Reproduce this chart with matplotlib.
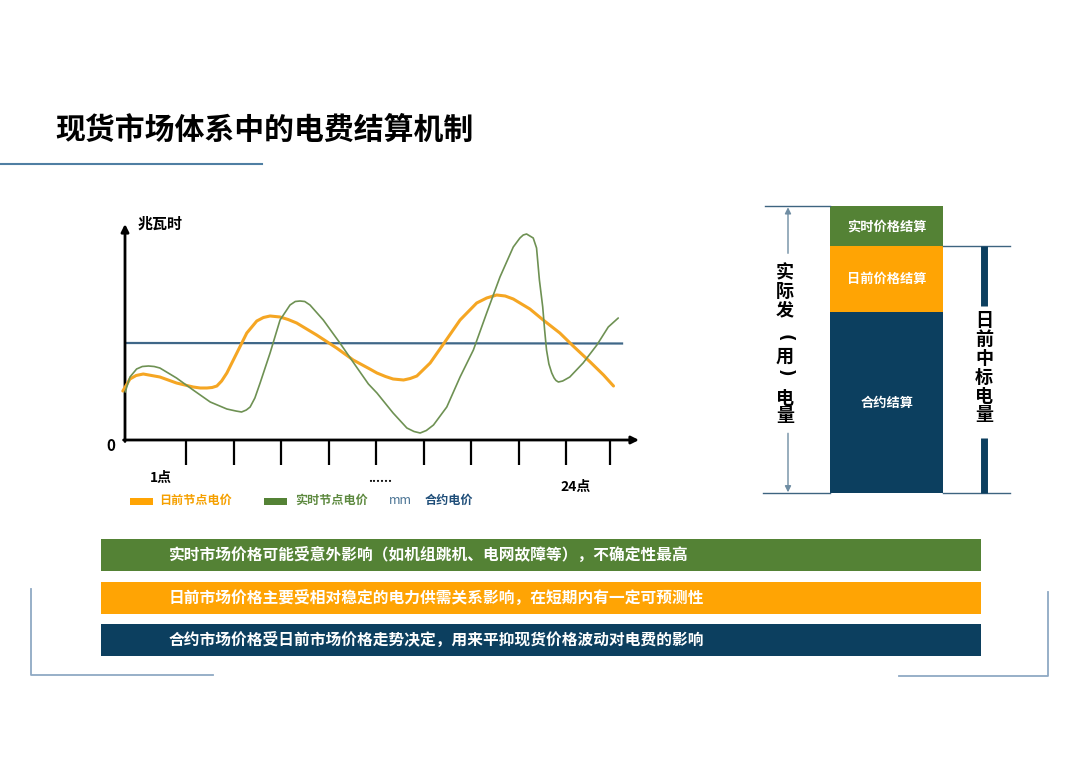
import matplotlib
matplotlib.use("Agg")
import matplotlib.pyplot as plt
import matplotlib.patches as patches

plt.rcParams['font.family'] = ['Noto Sans CJK SC', 'DejaVu Sans']

# ---- data ----
title = "现货市场体系中的电费结算机制"

# line chart: x in time-slot units (tick = 1 slot), y in MWh (schematic)
day_ahead_x = [-0.33, -0.18, -0.05, 0.10, 0.45, 0.80, 1.15, 1.30, 1.44, 1.55,
               1.65, 1.75, 1.86, 2.07, 2.28, 2.49, 2.63, 2.77, 2.98, 3.15,
               3.33, 3.75, 4.17, 4.52, 4.87, 5.02, 5.20, 5.36, 5.58, 5.72,
               5.86, 6.14, 6.42, 6.77, 7.12, 7.33, 7.54, 7.72, 7.89, 8.24,
               8.52, 8.87, 9.15, 9.51, 9.79, 10.00]
day_ahead_y = [49, 61, 64.5, 66, 63, 57, 53, 52, 52, 52.5,
               54, 59, 67, 87, 107, 119, 122.5, 124, 123, 120.5,
               117, 105, 92, 80, 71, 67, 63.5, 61, 60, 61.5,
               64, 77, 96, 120, 137, 142, 145, 144, 141, 131,
               120, 107, 94, 78, 65, 54]

real_time_x = [-0.28, -0.18, -0.04, 0.08, 0.21, 0.33, 0.45, 0.80, 1.15, 1.51,
               1.86, 2.05, 2.17, 2.27, 2.35, 2.45, 2.56, 2.77, 2.98, 3.19,
               3.30, 3.40, 3.50, 3.61, 3.89, 4.24, 4.59, 4.84, 5.02, 5.36,
               5.65, 5.80, 5.93, 6.06, 6.21, 6.49, 6.77, 7.05, 7.33, 7.61,
               7.89, 8.03, 8.10, 8.17, 8.24, 8.31, 8.38, 8.44, 8.51, 8.55,
               8.59, 8.64, 8.70, 8.75, 8.79, 8.84, 8.93, 9.08, 9.36, 9.65,
               9.89, 10.10]
real_time_y = [48, 63, 71, 73.5, 74, 73.5, 72, 62, 50, 38,
               31, 29, 28, 30, 33, 42, 57, 87, 120, 135,
               138.5, 139, 138.5, 135, 120, 97, 73, 56, 47, 27,
               12, 8.5, 7, 9.5, 15, 33, 63, 90, 127, 163,
               193, 202, 205, 206, 204, 202, 192, 160, 133, 110,
               90, 76, 67, 62, 59.5, 58, 59, 63, 77, 95,
               113, 122]

contract_x = [-0.24, 10.18]
contract_y = [97, 96.5]

x_ticks = [1, 2, 3, 4, 5, 6, 7, 8, 9, 9.93]
legend_labels = ["日前节点电价", "实时节点电价", "合约电价"]

# settlement split of the actual generated (used) energy, bottom to top
settle_labels = ["合约结算", "日前价格结算", "实时价格结算"]
settle_values = [181, 66, 40]

notes = ["实时市场价格可能受意外影响（如机组跳机、电网故障等），不确定性最高",
         "日前市场价格主要受相对稳定的电力供需关系影响，在短期内有一定可预测性",
         "合约市场价格受日前市场价格走势决定，用来平抑现货价格波动对电费的影响"]

# ---- colours ----
GREEN = "#548235"
ORANGE = "#FFA404"
NAVY = "#0C3F5F"
LINE_ORANGE = "#F5A623"
LINE_GREEN = "#6E9153"
LINE_BLUE = "#3F6788"
DECOR = "#8FA9C4"

W, H = 1080, 763
fig = plt.figure(figsize=(W / 100, H / 100), dpi=100)
fig.patch.set_facecolor("white")


def px_axes(x0, y0, x1, y1):
    """axes placed by pixel box (top-left origin)"""
    return fig.add_axes([x0 / W, (H - y1) / H, (x1 - x0) / W, (y1 - y0) / H])


# background layer in pixel units
bg = px_axes(0, 0, W, H)
bg.set_xlim(0, W)
bg.set_ylim(H, 0)
bg.axis("off")

bg.text(55, 130, title, fontsize=21.5, fontweight="bold", color="black", va="center", ha="left")
bg.plot([0, 262], [164, 164], color="#4F7FA3", lw=1.5)

# decorative brackets
bg.plot([31, 31, 213], [589, 675, 675], color=DECOR, lw=1.3)
bg.plot([899, 1048, 1048], [676, 676, 592], color=DECOR, lw=1.3)

# note boxes
box_colors = [GREEN, ORANGE, NAVY]
box_tops = [539, 582, 624]
for top, col, txt in zip(box_tops, box_colors, notes):
    bg.add_patch(patches.Rectangle((101, top), 880, 32, facecolor=col, edgecolor="none"))
    bg.text(169, top + 16, txt, fontsize=11.3, fontweight="bold", color="white", va="center", ha="left")

# ---- line chart ----
ax = px_axes(100, 200, 650, 520)
ax.set_xlim((100 - 138.5) / 47.5, (650 - 138.5) / 47.5)
ax.set_ylim(-80, 240)
ax.axis("off")

x0 = (125 - 138.5) / 47.5
ax.annotate("", xy=(x0, 216), xytext=(x0, -1.5),
            arrowprops=dict(arrowstyle="-|>", color="black", lw=2, mutation_scale=11, shrinkA=0, shrinkB=0))
ax.annotate("", xy=((639 - 138.5) / 47.5, 0), xytext=(x0 - 0.03, 0),
            arrowprops=dict(arrowstyle="-|>", color="black", lw=2, mutation_scale=11, shrinkA=0, shrinkB=0))
ax.vlines(x_ticks, -25, 0, color="black", lw=1.6)

ax.plot(contract_x, contract_y, color=LINE_BLUE, lw=1.6, zorder=2)
ax.plot(day_ahead_x, day_ahead_y, color=LINE_ORANGE, lw=2.2, zorder=3,
        solid_capstyle="round", solid_joinstyle="round")
ax.plot(real_time_x, real_time_y, color=LINE_GREEN, lw=1.2, zorder=4,
        solid_capstyle="round", solid_joinstyle="round")

bg.text(138, 224, "兆瓦时", fontsize=10.8, fontweight="bold", color="black", va="center", ha="left")
bg.text(111, 446, "0", fontsize=11, fontweight="bold", color="black", va="center", ha="center")
bg.text(161, 478, "1点", fontsize=10, fontweight="bold", color="black", va="center", ha="center")
bg.text(380, 482, "......", fontsize=9, fontweight="bold", color="black", va="baseline", ha="center")
bg.text(576, 487, "24点", fontsize=10, fontweight="bold", color="black", va="center", ha="center")

# legend
bg.add_patch(patches.Rectangle((130, 498), 23, 7, facecolor=ORANGE, edgecolor="none"))
bg.text(159, 500, legend_labels[0], fontsize=8.7, fontweight="bold", color="#F5A000", va="center")
bg.add_patch(patches.Rectangle((264, 498), 23, 7, facecolor=GREEN, edgecolor="none"))
bg.text(295, 500, legend_labels[1], fontsize=8.7, fontweight="bold", color="#5E8A40", va="center")
bg.text(389, 500, "mm", fontsize=9, color="#4A7394", va="center")
bg.text(425, 500, legend_labels[2], fontsize=8.7, fontweight="bold", color="#1F4E79", va="center")

# ---- settlement bar ----
bx = px_axes(750, 190, 1030, 510)
bx.set_xlim(0, 280)
bx.set_ylim(-16.7, 303.3)
bx.axis("off")

bar_colors = [NAVY, ORANGE, GREEN]
bottom = 0
tops = []
for val, col, lab in zip(settle_values, bar_colors, settle_labels):
    bx.bar(136.7, val, width=113.3, bottom=bottom, color=col, edgecolor="none")
    bx.text(136.7, bottom + val / 2, lab, fontsize=9.5, fontweight="bold", color="white",
            ha="center", va="center")
    bottom += val
    tops.append(bottom)

total = tops[-1]
day_ahead_top = tops[1]
bx.plot([13, 80], [0, 0], color="#3E6480", lw=1)
bx.plot([193, 260], [0, 0], color="#3E6480", lw=1)
bx.plot([15, 80], [total, total], color="#3E6480", lw=1)
bx.plot([193, 260], [day_ahead_top, day_ahead_top], color="#3E6480", lw=1)

# actual energy double arrow, split by label
ax_col = "#6F8DA3"
bx.annotate("", xy=(38, total - 1), xytext=(38, 240),
            arrowprops=dict(arrowstyle="-|>", color=ax_col, lw=1, mutation_scale=9, shrinkA=0, shrinkB=0))
bx.annotate("", xy=(38, 1), xytext=(38, 60),
            arrowprops=dict(arrowstyle="-|>", color=ax_col, lw=1, mutation_scale=9, shrinkA=0, shrinkB=0))
left_chars = ["实", "际", "发", "用", "电", "量"]
left_y = [273, 291.5, 310, 356.5, 398, 415.5]
for ch, yy in zip(left_chars, left_y):
    bg.text(785, yy, ch, fontsize=13, fontweight="bold", color="black", ha="center", va="center")
# parentheses turned for vertical writing
for ch, yy in zip(["(", ")"], [338, 373]):
    bg.text(785, yy, ch, fontsize=12, fontweight="bold", color="black", ha="center", va="center",
            rotation=-90, family="DejaVu Sans")

# day-ahead cleared energy bar, split by label
bx.plot([234, 234], [day_ahead_top, 187], color=NAVY, lw=5, solid_capstyle="butt")
bx.plot([234, 234], [55, 0], color=NAVY, lw=5, solid_capstyle="butt")
right_chars = ["日", "前", "中", "标", "电", "量"]
right_y = [320, 339, 358, 377, 396, 415]
for ch, yy in zip(right_chars, right_y):
    bg.text(984, yy, ch, fontsize=13, fontweight="bold", color="black", ha="center", va="center")

fig.savefig("out.png", dpi=100)
